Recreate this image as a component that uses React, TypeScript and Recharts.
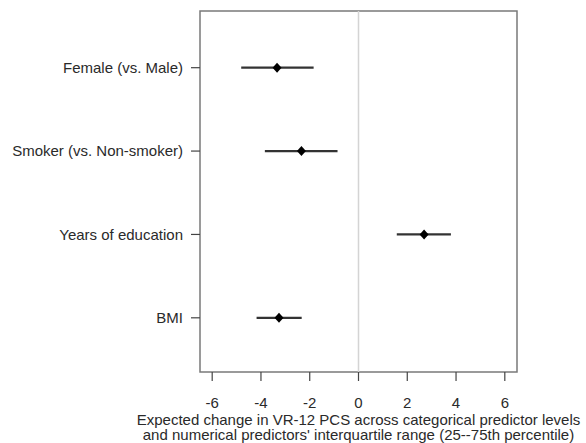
import React from "react";
import {
  ScatterChart,
  Scatter,
  XAxis,
  YAxis,
  ErrorBar,
  ReferenceLine,
  ReferenceArea,
} from "recharts";

const categories = [
  "Female (vs. Male)",
  "Smoker (vs. Non-smoker)",
  "Years of education",
  "BMI",
];
const estimates = [-3.34, -2.34, 2.69, -3.26];
const lowerBounds = [-4.81, -3.84, 1.57, -4.18];
const upperBounds = [-1.84, -0.86, 3.79, -2.33];
const xTicks = [-6, -4, -2, 0, 2, 4, 6];
const titleLines = [
  "Expected change in VR-12 PCS across categorical predictor levels",
  "and numerical predictors' interquartile range (25--75th percentile)",
];

const data = categories.map((c, i) => ({
  pos: i + 1,
  est: estimates[i],
  err: [estimates[i] - lowerBounds[i], upperBounds[i] - estimates[i]],
}));

const FONT = "'Liberation Sans', Arial, Helvetica, sans-serif";
const X_DOMAIN: [number, number] = [-6.5, 6.5];
const Y_DOMAIN: [number, number] = [0.32, 4.65];

const Diamond = (props: any) => {
  const { cx, cy } = props;
  if (cx == null || cy == null) return null;
  const w = 4.5;
  const h = 5;
  return (
    <polygon
      points={`${cx},${cy - h} ${cx + w},${cy} ${cx},${cy + h} ${cx - w},${cy}`}
      fill="#000"
    />
  );
};

const TitleLabel = (props: any) => {
  const vb = props.viewBox || {};
  const cx = vb.x + vb.width / 2;
  const y0 = vb.y;
  return (
    <text
      x={cx}
      y={y0}
      textAnchor="middle"
      fontFamily={FONT}
      fontSize={15}
      fill="#2a2a2a"
    >
      <tspan x={cx} y={y0 + 52.5}>
        {titleLines[0]}
      </tspan>
      <tspan x={cx} y={y0 + 68}>
        {titleLines[1]}
      </tspan>
    </text>
  );
};

const XTick = (props: any) => {
  const { x, payload } = props;
  return (
    <text
      x={x}
      y={408}
      textAnchor="middle"
      fontFamily={FONT}
      fontSize={15}
      fill="#2a2a2a"
    >
      {payload.value}
    </text>
  );
};

export default function App() {
  return (
    <div style={{ position: "absolute", left: 0, top: 0, background: "#fff" }}>
      <ScatterChart
        width={586}
        height={443}
        margin={{ top: 11, right: 69, left: 0, bottom: 0 }}
      >
        <XAxis
          type="number"
          dataKey="est"
          domain={X_DOMAIN}
          ticks={xTicks}
          allowDataOverflow
          axisLine={false}
          tickSize={9}
          height={71}
          tickLine={{ stroke: "#444", strokeWidth: 1.2 }}
          tick={<XTick />}
          label={<TitleLabel />}
        />
        <YAxis
          type="number"
          dataKey="pos"
          domain={Y_DOMAIN}
          reversed
          allowDataOverflow
          ticks={[1, 2, 3, 4]}
          tickFormatter={(v: number) => categories[v - 1] ?? ""}
          axisLine={false}
          width={200}
          tickSize={9}
          tickMargin={8}
          tickLine={{ stroke: "#444", strokeWidth: 1.2 }}
          tick={{ fontFamily: FONT, fontSize: 15, fill: "#2a2a2a" }}
        />
        <ReferenceLine x={0} stroke="#d4d4d4" strokeWidth={1.5} />
        <ReferenceArea
          x1={X_DOMAIN[0]}
          x2={X_DOMAIN[1]}
          y1={Y_DOMAIN[0]}
          y2={Y_DOMAIN[1]}
          fill="none"
          stroke="#7a7a7a"
          strokeWidth={1.5}
          fillOpacity={0}
        />
        <Scatter data={data} shape={<Diamond />} isAnimationActive={false}>
          <ErrorBar
            dataKey="err"
            direction="x"
            width={0}
            stroke="#333"
            strokeWidth={2.2}
          />
        </Scatter>
      </ScatterChart>
    </div>
  );
}
